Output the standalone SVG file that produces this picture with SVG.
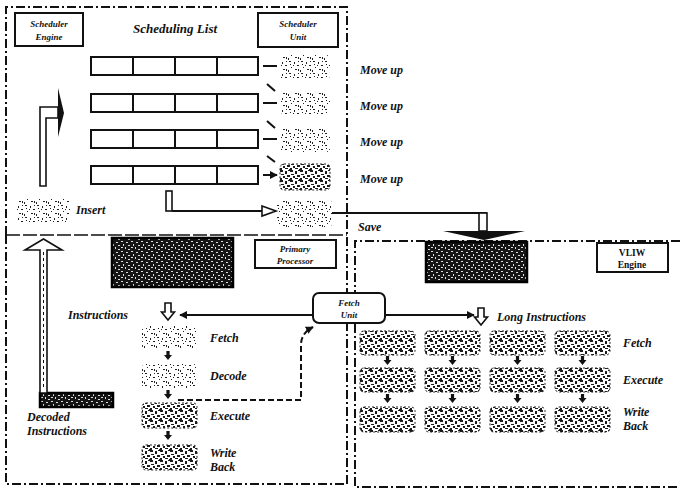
<svg xmlns="http://www.w3.org/2000/svg" width="680" height="495" viewBox="0 0 680 495">
<style>
.frame{fill:none;stroke:#111;stroke-width:2;stroke-dasharray:9 3 2 3}
.box{fill:#fff;stroke:#111;stroke-width:2}
.cell{fill:#fff;stroke:#111;stroke-width:2}
.lt{fill:url(#speckL)}
.md{fill:url(#speckM);stroke:#222;stroke-width:1;stroke-dasharray:2 2}
.dk{fill:url(#speckD);stroke:#000;stroke-width:2.5}
.t{font-family:"Liberation Serif","DejaVu Serif",serif;font-weight:bold;font-style:italic;fill:#111}
.s{font-size:12px}
.xs{font-size:9px}
.ln{fill:none;stroke:#111;stroke-width:2}
.hol{fill:#fff;stroke:#111;stroke-width:1.6}
</style>
<defs>
<pattern id="speckL" width="12" height="12" patternUnits="userSpaceOnUse">
<rect width="12" height="12" fill="#fff"/>
<path d="M1 1h2v1h-2zM6 2h1v2h-1zM9 5h2v1h-2zM3 7h1v1h-1zM7 9h2v1h-2zM0 10h1v2h-1zM10 1h1v1h-1zM5 5h1v1h-1zM2 4h1v1h-1zM10 9h1v2h-1z" fill="#222"/>
</pattern>
<pattern id="speckM" width="10" height="10" patternUnits="userSpaceOnUse">
<rect width="10" height="10" fill="#fff"/>
<path d="M0 0h3v2h-3zM5 1h2v3h-2zM8 0h2v1h-2zM1 4h3v1h-3zM7 5h3v2h-3zM3 6h2v2h-2zM0 8h2v2h-2zM5 8h3v1h-3zM9 9h1v1h-1z" fill="#1a1a1a"/>
</pattern>
<pattern id="speckD" width="10" height="10" patternUnits="userSpaceOnUse">
<rect width="10" height="10" fill="#151515"/>
<path d="M1 1h2v1h-2zM6 2h2v1h-2zM3 4h1v2h-1zM8 5h2v1h-2zM1 7h2v1h-2zM5 7h1v2h-1zM8 9h2v1h-2z" fill="#ddd"/>
</pattern>
<marker id="ah" viewBox="0 0 10 10" refX="9" refY="5" markerWidth="4" markerHeight="4" orient="auto" markerUnits="strokeWidth">
<path d="M0 0L10 5L0 10z" fill="#111"/>
</marker>
<path id="dn" d="M-1.6 -5h3.2v4h2.4l-4 5l-4 -5h2.4z" fill="#111"/>
<path id="hdn" d="M-3 -9h6v9h3.5l-6.5 8l-6.5 -8h3.5z" fill="#fff" stroke="#111" stroke-width="1.6"/>
</defs>

<g id="frames">
<path class="frame" d="M6 235V7H347V484"/>
<path class="frame" d="M6 235V484H347"/>
<path d="M6 235H347" fill="none" stroke="#111" stroke-width="1.6" stroke-dasharray="14 3"/>
<path class="frame" d="M680 241H355V487H680"/>
</g>

<g id="scheduler-engine">
<rect class="box" x="15" y="13" width="68" height="33"/>
<text class="t xs" x="49" y="27" text-anchor="middle">Scheduler</text>
<text class="t xs" x="49" y="40" text-anchor="middle">Engine</text>
</g>
<g id="scheduling-list">
<text class="t" font-size="13" x="175" y="33" text-anchor="middle">Scheduling List</text>
<g id="row1"><rect class="cell" x="91" y="57" width="167" height="18"/><path class="ln" d="M133 57v18M175 57v18M217 57v18"/></g>
<g id="row2"><rect class="cell" x="91" y="94" width="167" height="18"/><path class="ln" d="M133 94v18M175 94v18M217 94v18"/></g>
<g id="row3"><rect class="cell" x="91" y="130" width="167" height="18"/><path class="ln" d="M133 130v18M175 130v18M217 130v18"/></g>
<g id="row4"><rect class="cell" x="91" y="166" width="167" height="18"/><path class="ln" d="M133 166v18M175 166v18M217 166v18"/></g>
</g>
<g id="scheduler-unit">
<rect class="box" x="258" y="13" width="80" height="34"/>
<text class="t xs" x="298" y="27" text-anchor="middle">Scheduler</text>
<text class="t xs" x="298" y="40" text-anchor="middle">Unit</text>
</g>
<g id="unit-slots">
<rect class="lt" x="280" y="55" width="50" height="24" rx="4"/>
<rect class="lt" x="280" y="92" width="50" height="22" rx="4"/>
<rect class="lt" x="280" y="128" width="50" height="24" rx="4"/>
<rect class="md" x="280" y="164" width="50" height="26" rx="4"/>
<rect class="lt" x="277" y="200" width="55" height="27" rx="4"/>
</g>
<g id="move-labels">
<text class="t s" x="360" y="74">Move up</text>
<text class="t s" x="360" y="110">Move up</text>
<text class="t s" x="360" y="146">Move up</text>
<text class="t s" x="360" y="183">Move up</text>
</g>
<g id="insert">
<rect class="lt" x="17" y="198" width="53" height="24" rx="4"/>
<text class="t s" x="76" y="214">Insert</text>
</g>
<g id="save-label"><text class="t s" x="358" y="231">Save</text></g>

<g id="primary-processor">
<rect class="dk" x="112" y="238" width="121" height="49"/>
<rect class="box" x="255" y="240" width="81" height="28"/>
<text class="t xs" x="295" y="252" text-anchor="middle">Primary</text>
<text class="t xs" x="295" y="264" text-anchor="middle">Processor</text>
<text class="t s" x="68" y="319">Instructions</text>
<g id="p-fetch"><rect class="lt" x="142" y="326" width="55" height="23" rx="4"/><text class="t s" x="210" y="342">Fetch</text></g>
<g id="p-decode"><rect class="lt" x="142" y="364" width="55" height="24" rx="4"/><text class="t s" x="210" y="380">Decode</text></g>
<g id="p-execute"><rect class="md" x="142" y="403" width="55" height="25" rx="4"/><text class="t s" x="210" y="420">Execute</text></g>
<g id="p-write"><rect class="md" x="142" y="445" width="55" height="25" rx="4"/><text class="t s" x="210" y="457">Write</text><text class="t s" x="210" y="471">Back</text></g>
<g id="decoded-instructions">
<rect class="dk" x="40" y="393" width="73" height="14" stroke-width="1.5"/>
<text class="t s" x="27" y="421">Decoded</text>
<text class="t s" x="27" y="435">Instructions</text>
</g>
</g>

<g id="fetch-unit">
<rect class="box" x="313" y="293" width="72" height="30" rx="6"/>
<text class="t xs" x="349" y="306" text-anchor="middle">Fetch</text>
<text class="t xs" x="349" y="318" text-anchor="middle">Unit</text>
</g>

<g id="vliw-engine">
<rect class="dk" x="426" y="242" width="101" height="40"/>
<rect class="box" x="597" y="243" width="71" height="29"/>
<text x="632" y="256" text-anchor="middle" font-family="Liberation Serif,serif" font-weight="bold" font-size="9.5" fill="#111">VLIW</text>
<text x="632" y="268" text-anchor="middle" font-family="Liberation Serif,serif" font-weight="bold" font-size="9.5" fill="#111">Engine</text>
<text class="t s" x="497" y="321">Long Instructions</text>
<g id="v-fetch">
<rect class="md" x="360" y="331" width="55" height="24" rx="4"/><rect class="md" x="425" y="331" width="55" height="24" rx="4"/><rect class="md" x="490" y="331" width="55" height="24" rx="4"/><rect class="md" x="555" y="331" width="55" height="24" rx="4"/>
<text class="t s" x="623" y="347">Fetch</text>
</g>
<g id="v-execute">
<rect class="md" x="360" y="368" width="55" height="24" rx="4"/><rect class="md" x="425" y="368" width="55" height="24" rx="4"/><rect class="md" x="490" y="368" width="55" height="24" rx="4"/><rect class="md" x="555" y="368" width="55" height="24" rx="4"/>
<text class="t s" x="623" y="384">Execute</text>
</g>
<g id="v-write">
<rect class="md" x="360" y="407" width="55" height="25" rx="4"/><rect class="md" x="425" y="407" width="55" height="25" rx="4"/><rect class="md" x="490" y="407" width="55" height="25" rx="4"/><rect class="md" x="555" y="407" width="55" height="25" rx="4"/>
<text class="t s" x="623" y="416">Write</text>
<text class="t s" x="623" y="430">Back</text>
</g>
</g>

<g id="connectors">
<path class="ln" stroke-width="3" marker-end="url(#ah)" d="M263 66H277M263 103H277M263 139H277M263 175H277"/>
<path class="ln" stroke-width="3" d="M267 84L275 91M267 121L275 128M267 156L275 162"/>
<rect class="hol" x="166" y="191" width="6" height="20"/>
<path class="ln" d="M172 211H262"/>
<path class="hol" d="M262 206L276 211L262 216z"/>
<path class="ln" d="M332 213H487"/>
<rect class="hol" x="479" y="213" width="8" height="18"/>
<path d="M443 231H525L484 240z" fill="#111"/>
<path class="hol" d="M40 186V107H58V118H46V186z"/>
<path d="M58 88L64 113L58 137z" fill="#111"/>
<path class="hol" d="M40 393V250H25L43.5 239L62 250H47V393z" stroke-width="1.8"/>
<path d="M43.5 252V390" stroke="#111" stroke-width="1" stroke-dasharray="3 3"/>
<use href="#hdn" x="168" y="312"/>
<path class="ln" marker-end="url(#ah)" d="M313 315H180"/>
<use href="#dn" x="168" y="356"/>
<use href="#dn" x="168" y="395"/>
<use href="#dn" x="168" y="436"/>
<path class="ln" stroke-dasharray="6 3" marker-end="url(#ah)" d="M178 400H301V345Q301 333 313 327"/>
<path class="ln" marker-end="url(#ah)" d="M385 315H474"/>
<use href="#hdn" x="481" y="317"/>
<use href="#dn" x="387.5" y="361"/><use href="#dn" x="452.5" y="361"/><use href="#dn" x="517.5" y="361"/><use href="#dn" x="582.5" y="361"/>
<use href="#dn" x="387.5" y="399"/><use href="#dn" x="452.5" y="399"/><use href="#dn" x="517.5" y="399"/><use href="#dn" x="582.5" y="399"/>
</g>
</svg>
